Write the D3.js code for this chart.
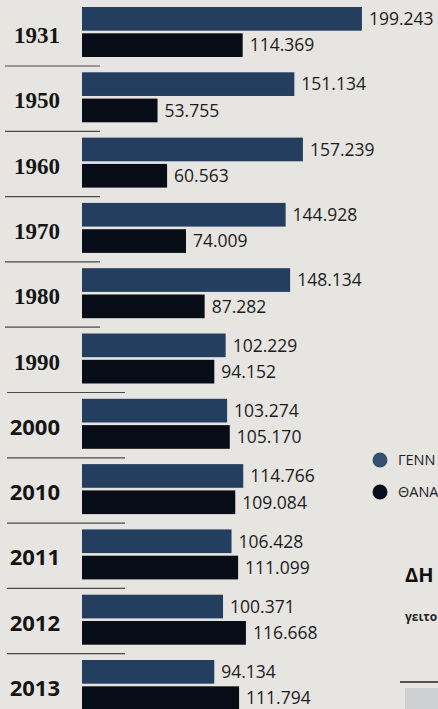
<!DOCTYPE html>
<html>
<head>
<meta charset="utf-8">
<script src="https://cdn.jsdelivr.net/npm/d3@7"></script>
<style>
  html, body { margin: 0; padding: 0; background: #e7e5e2; overflow: hidden; }
  svg { display: block; }
</style>
</head>
<body>
<div id="graph"></div>
<script>
// Years and series values (births / deaths)
var years = ["1931", "1950", "1960", "1970", "1980", "1990", "2000", "2010", "2011", "2012", "2013"];
var births = [199243, 151134, 157239, 144928, 148134, 102229, 103274, 114766, 106428, 100371, 94134];
var deaths = [114369, 53755, 60563, 74009, 87282, 94152, 105170, 109084, 111099, 116668, 111794];
var seriesNames = ["births", "deaths"];
// legend words are cut by the page edge in the reference
var legendLabels = ["ΓΕΝΝ", "ΘΑΝΑ"];

var width = 438, height = 709;
var colors = { births: "#243e60", deaths: "#080c17" };

// format 199243 -> "199.243"
function fmt(v) {
    return d3.format(",")(v).replace(/,/g, ".");
}

var rows = years.map(function(y, i) {
    return { year: y, births: births[i], deaths: deaths[i] };
});

var svg = d3.select("#graph").append("svg")
    .attr("width", width)
    .attr("height", height);

svg.append("rect")
    .attr("width", width)
    .attr("height", height)
    .attr("fill", "#e7e5e2");

// Scales
var x = d3.scaleLinear().domain([0, 200000]).range([82, 363]);
var y = d3.scaleBand().domain(years).range([7, 7 + 65.3 * years.length]);
var sub = d3.scaleBand().domain(seriesNames).range([0, 50]).paddingInner(0.1);

var row = svg.selectAll("g.row").data(rows)
    .enter().append("g")
    .attr("class", "row")
    .attr("transform", function(d) { return "translate(0," + y(d.year) + ")"; });

// bars
seriesNames.forEach(function(s) {
    row.append("rect")
        .attr("x", x(0))
        .attr("y", sub(s))
        .attr("width", function(d) { return x(d[s]) - x(0); })
        .attr("height", sub.bandwidth())
        .attr("fill", colors[s]);

    row.append("text")
        .attr("x", function(d) { return x(d[s]) + 7; })
        .attr("y", sub(s) + sub.bandwidth() / 2)
        .attr("dy", "0.36em")
        .style("font-family", "'Open Sans', sans-serif")
        .style("font-size", "17.5px")
        .style("fill", "#1c1c1c")
        .text(function(d) { return fmt(d[s]); });
});

// year labels
row.append("text")
    .attr("x", 60)
    .attr("y", 36)
    .attr("text-anchor", "end")
    .style("font-family", function(d) {
        return +d.year < 2000 ? "'Liberation Serif', serif" : "'Open Sans', sans-serif";
    })
    .style("font-weight", "bold")
    .style("font-size", function(d) { return +d.year < 2000 ? "23px" : "22px"; })
    .style("fill", "#151515")
    .text(function(d) { return d.year; });

// separators under each row
row.filter(function(d, i) { return i < years.length - 1; })
    .append("line")
    .attr("x1", function(d) { return +d.year < 1990 ? 5 : 7; })
    .attr("x2", function(d) { return +d.year < 1990 ? 100 : 125; })
    .attr("y1", 59)
    .attr("y2", 59)
    .style("stroke", "#4a4a4a")
    .style("stroke-width", 1.2);

// legend
var legend = svg.selectAll("g.legend").data(seriesNames)
    .enter().append("g")
    .attr("class", "legend")
    .attr("transform", function(d, i) { return "translate(380," + (460 + i * 32) + ")"; });

legend.append("circle")
    .attr("r", 7.5)
    .attr("fill", function(d) { return d === "births" ? "#34506f" : "#0a0e1c"; });

legend.append("text")
    .attr("x", 18)
    .attr("dy", "0.36em")
    .style("font-family", "'Open Sans', sans-serif")
    .style("font-size", "14.5px")
    .style("fill", "#222")
    .text(function(d, i) { return legendLabels[i]; });

// neighbouring article fragments on the right edge
svg.append("text")
    .attr("x", 405)
    .attr("y", 582)
    .style("font-family", "'Open Sans', sans-serif")
    .style("font-weight", "bold")
    .style("font-size", "20px")
    .style("fill", "#111")
    .text("ΔΗ");

svg.append("text")
    .attr("x", 405)
    .attr("y", 621)
    .style("font-family", "'Open Sans', sans-serif")
    .style("font-weight", "bold")
    .style("font-size", "12px")
    .style("fill", "#222")
    .text("γειτο");

svg.append("line")
    .attr("x1", 400).attr("x2", width)
    .attr("y1", 682).attr("y2", 682)
    .style("stroke", "#222")
    .style("stroke-width", 1.5);

svg.append("rect")
    .attr("x", 405).attr("y", 688)
    .attr("width", 33).attr("height", 21)
    .attr("fill", "#cfd0d1");
</script>
</body>
</html>
